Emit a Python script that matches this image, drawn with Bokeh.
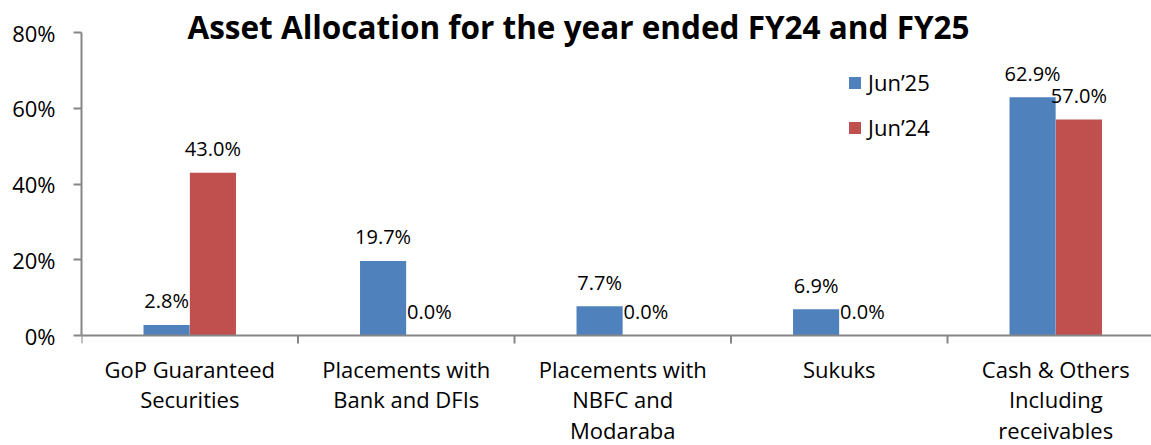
from bokeh.plotting import figure
from bokeh.models import (ColumnDataSource, Range1d, FixedTicker, LabelSet, Label,
                          Legend, LegendItem, PrintfTickFormatter, Span)
from bokeh.core.properties import value
from bokeh.embed import file_html
from bokeh.resources import INLINE

categories = ["GoP Guaranteed\nSecurities", "Placements with\nBank and DFIs",
              "Placements with\nNBFC and\nModaraba", "Sukuks",
              "Cash & Others\nIncluding\nreceivables"]
jun25 = [2.8, 19.7, 7.7, 6.9, 62.9]
jun24 = [43.0, 0.0, 0.0, 0.0, 57.0]
series_names = ["Jun\u201925", "Jun\u201924"]
y_ticks = [0, 20, 40, 60, 80]
title_text = "Asset Allocation for the year ended FY24 and FY25"

BLUE = "#4F81BD"
RED = "#C0504D"
AXIS = "#868686"
FONT = "Open Sans"

W, H = 1151, 445
LEFT = 81            # frame left (px)
ZERO_PX = 335        # screen y of 0%
TOP80_PX = 32        # screen y of 80%
CAT_PX = 216.5       # px per category
PX = (ZERO_PX - TOP80_PX) / 80.0   # px per percentage unit

n = len(categories)
centers = [i + 0.5 for i in range(n)]
dodge = 0.107
bw = 0.213

src25 = ColumnDataSource(dict(x=[c - dodge for c in centers], top=jun25,
                              lab=[f"{v:.1f}%" for v in jun25]))
src24 = ColumnDataSource(dict(x=[c + dodge for c in centers], top=jun24,
                              lab=[f"{v:.1f}%" for v in jun24]))

p = figure(width=W, height=H, output_backend="svg", toolbar_location=None,
           x_range=Range1d(0, (W - LEFT) / CAT_PX),
           y_range=Range1d(-(H - ZERO_PX) / PX, ZERO_PX / PX),
           x_axis_location=None,
           min_border_left=LEFT, min_border_right=0, min_border_top=0,
           min_border_bottom=0)
p.outline_line_color = None
p.xgrid.visible = False
p.ygrid.visible = False
p.background_fill_color = "white"

r25 = p.vbar(x="x", top="top", width=bw, source=src25, fill_color=BLUE, line_color=None)
r24 = p.vbar(x="x", top="top", width=bw, source=src24, fill_color=RED, line_color=None)

lab_style = dict(text_font_size="20px", text_font=value(FONT), text_align="center",
                 text_baseline="middle", text_color="black", y_offset=24)
p.add_layout(LabelSet(x="x", y="top", text="lab", source=src25, **lab_style))
p.add_layout(LabelSet(x="x", y="top", text="lab", source=src24, **lab_style))

# y axis
ya = p.yaxis[0]
ya.ticker = FixedTicker(ticks=y_ticks)
ya.bounds = (0, 80)
ya.formatter = PrintfTickFormatter(format="%d%%")
ya.axis_line_color = AXIS
ya.axis_line_width = 2
ya.major_tick_line_color = AXIS
ya.major_tick_line_width = 2
ya.major_tick_out = 8
ya.major_tick_in = 0
ya.minor_tick_line_color = None
ya.major_label_text_font = FONT
ya.major_label_text_font_size = "22px"
ya.major_label_text_color = "black"
ya.major_label_standoff = 18

# x axis line at zero and category-boundary ticks
p.add_layout(Span(location=0, dimension="width", line_color=AXIS, line_width=2))
bounds = list(range(n + 1))
p.segment(x0=bounds, y0=[0] * len(bounds), x1=bounds, y1=[-8 / PX] * len(bounds),
          line_color=AXIS, line_width=2)

# category labels (multi-line)
lx, ly, lt = [], [], []
for c, name in zip(centers, categories):
    for k, line in enumerate(name.split("\n")):
        lx.append(c)
        ly.append(-(33 + 30.5 * k) / PX)
        lt.append(line)
p.text(x=lx, y=ly, text=lt, text_font=value(FONT), text_font_size="22px",
       text_align="center", text_baseline="middle", text_color="black")

# title
p.add_layout(Label(x=(578 - LEFT) / CAT_PX, y=(ZERO_PX - 26) / PX, text=title_text,
                   text_font=FONT, text_font_style="bold", text_font_size="31.5px",
                   text_align="center", text_baseline="middle", text_color="black"))

legend = Legend(items=[LegendItem(label=series_names[0], renderers=[r25]),
                       LegendItem(label=series_names[1], renderers=[r24])],
                location=(766, 303), orientation="vertical",
                glyph_width=15, glyph_height=15, label_height=28, spacing=15,
                label_standoff=6, padding=0, margin=0,
                label_text_font=FONT, label_text_font_size="22px",
                label_text_color="black",
                background_fill_alpha=0, border_line_alpha=0)
p.add_layout(legend)

open("out.html", "w").write(file_html(p, INLINE))
